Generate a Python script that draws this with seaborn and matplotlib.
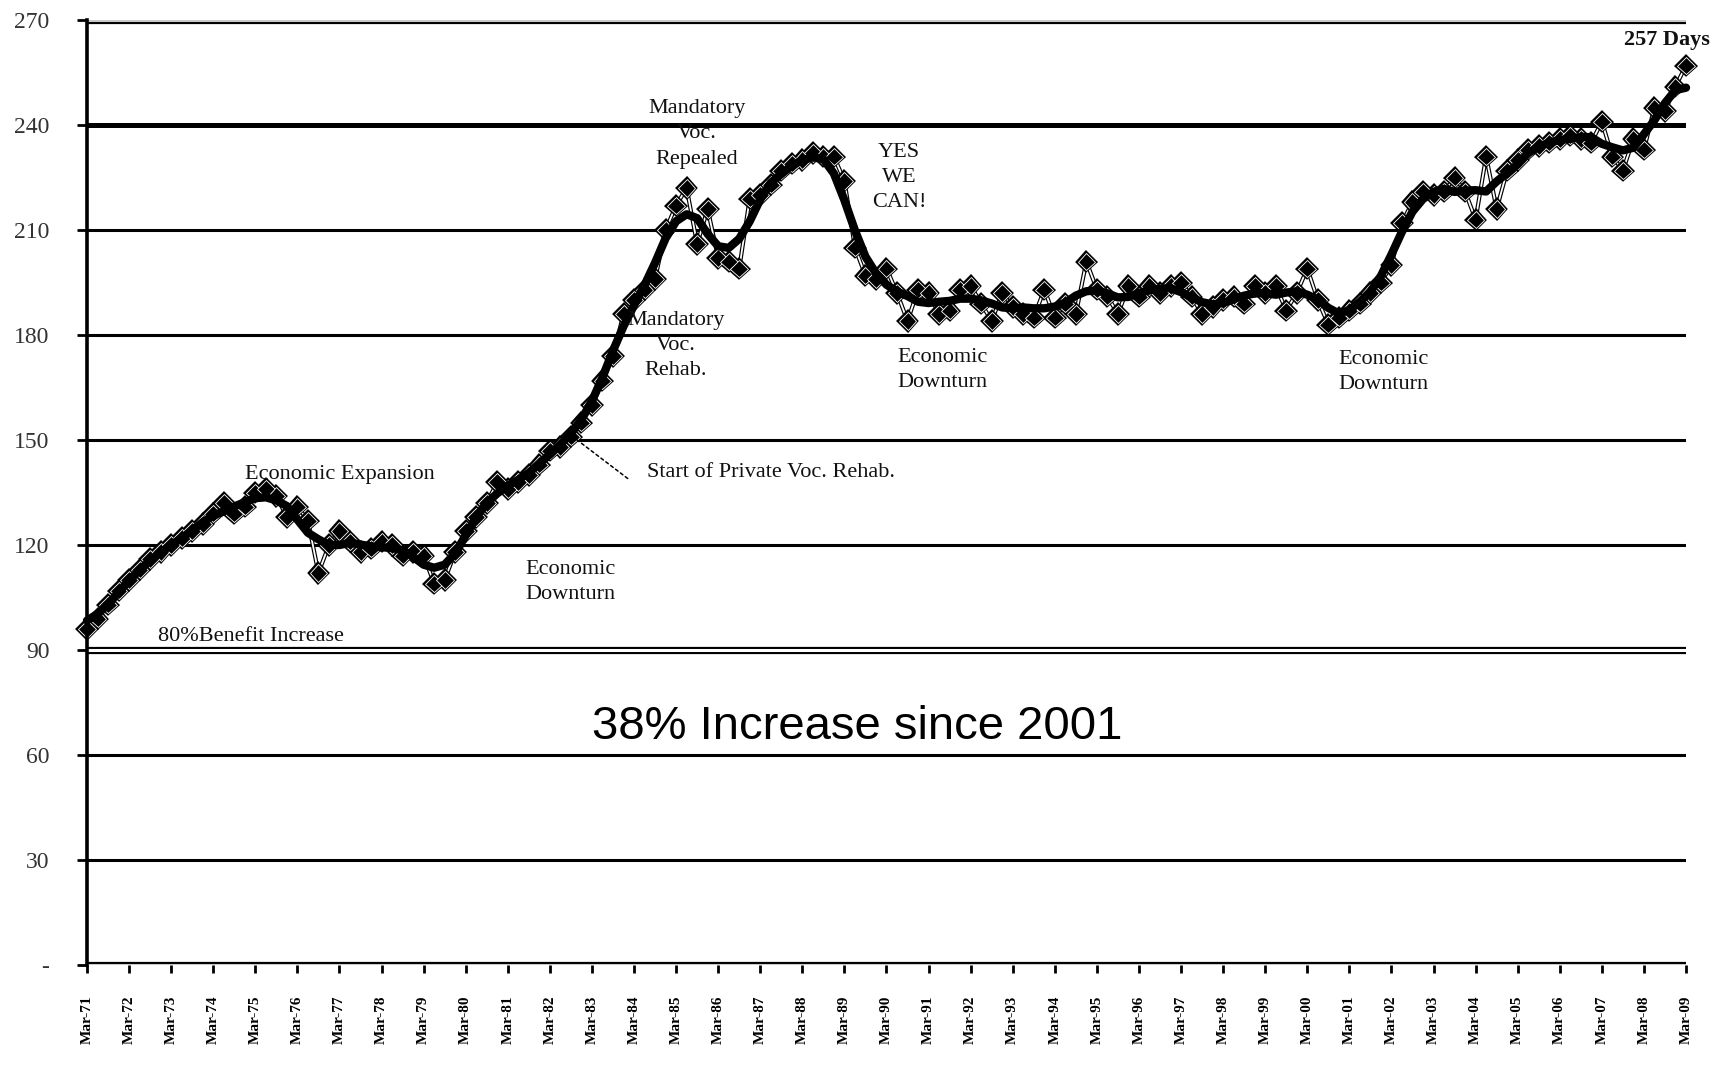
import numpy as np
import pandas as pd
import matplotlib
matplotlib.use("Agg")
import matplotlib.pyplot as plt
import matplotlib.patheffects as pe
import seaborn as sns

# Average days, quarterly readings (Mar, Jun, Sep, Dec) per year
days_1971_1980 = [96, 99, 103, 107, 110, 113, 116, 118, 120, 122, 124, 126,
                  129, 132, 129, 131, 135, 136, 134, 128, 131, 127, 112, 120,
                  124, 121, 118, 119, 121, 120, 117, 118, 117, 109, 110, 118]
days_1980_1990 = [124, 128, 132, 138, 136, 138, 140, 143, 147, 148, 151, 155,
                  160, 167, 174, 186, 190, 193, 196, 210, 217, 222, 206, 216,
                  202, 201, 199, 219, 220, 223, 227, 229, 230, 232, 231, 231,
                  224, 205, 197, 196]
days_1990_2000 = [199, 192, 184, 193, 192, 186, 187, 193, 194, 189, 184, 192,
                  188, 186, 185, 193, 185, 189, 186, 201, 193, 191, 186, 194,
                  191, 194, 192, 194, 195, 191, 186, 188, 190, 191, 189, 194,
                  192, 194, 187, 192]
days_2000_2009 = [199, 190, 183, 185, 187, 189, 192, 195, 200, 212, 218, 221,
                  220, 221, 225, 221, 213, 231, 216, 227, 230, 233, 234, 235,
                  236, 237, 236, 235, 241, 231, 227, 236, 233, 245, 244, 251,
                  257]

tick_years = list(range(1971, 2010))
tick_labels = [f"Mar-{y % 100:02d}" for y in tick_years]
y_ticks = [0, 30, 60, 90, 120, 150, 180, 210, 240, 270]
y_tick_labels = ["-", "30", "60", "90", "120", "150", "180", "210", "240", "270"]

days = days_1971_1980 + days_1980_1990 + days_1990_2000 + days_2000_2009
df = pd.DataFrame({"quarter": 1971 + 0.25 * np.arange(len(days)), "days": days})
# centred 2x4 moving average of the quarterly readings
ma4 = df["days"].rolling(4, center=True, min_periods=1).mean()
df["trend"] = ma4.rolling(2, min_periods=1).mean().shift(-1).fillna(ma4)

sns.set_theme(style="white")
plt.rcParams["font.family"] = ["Liberation Serif", "DejaVu Serif"]

fig = plt.figure(figsize=(17.2, 10.67), dpi=100)
ax = fig.add_axes([87 / 1720, 1 - 965 / 1067, (1686 - 87) / 1720, (965 - 20) / 1067])

# horizontal rules
for v in [30, 60, 120, 150, 180, 210]:
    ax.axhline(v, color="black", lw=2.2, zorder=1)
ax.axhline(240, color="black", lw=3.6, zorder=1)
for v in [0, 90, 270]:
    ax.axhline(v, color="#c8c8c8" if v != 90 else "white", lw=2.2, zorder=1.5,
               path_effects=[pe.Stroke(linewidth=5.2, foreground="black"), pe.Normal()])

# quarterly readings
sns.lineplot(data=df, x="quarter", y="days", ax=ax, color="white", lw=1.3,
             marker="D", markersize=9, markerfacecolor="black",
             markeredgecolor="white", markeredgewidth=0.6, zorder=3, clip_on=False,
             path_effects=[pe.Stroke(linewidth=3.0, foreground="black"), pe.Normal()])
# moving-average trend
sns.lineplot(data=df, x="quarter", y="trend", ax=ax, color="black", lw=6,
             zorder=4, clip_on=False)

ax.set_xlim(1971, 2009)
ax.set_ylim(0, 270)
ax.set_xlabel("")
ax.set_ylabel("")

ax.set_xticks(tick_years)
ax.set_xticklabels(tick_labels, rotation=90, fontsize=11, fontweight="bold",
                   color="black")
ax.set_yticks(y_ticks)
ax.set_yticklabels(y_tick_labels, fontsize=17, color="#333333")
ax.tick_params(axis="x", direction="out", length=6, width=2, pad=16, colors="black",
               labelcolor="black", bottom=True)
ax.tick_params(axis="y", direction="out", length=7, width=2, pad=20, colors="black",
               labelcolor="#333333", left=True)

for side in ["top", "right", "bottom"]:
    ax.spines[side].set_visible(False)
ax.spines["left"].set_color("black")
ax.spines["left"].set_linewidth(2.6)
ax.spines["left"].set_zorder(5)

note = dict(color="#111111", fontsize=16, linespacing=1.45, zorder=6)
ax.text(1977.0, 140, "Economic Expansion", ha="center", va="center", **note)
ax.text(1974.9, 93.8, "80%Benefit Increase", ha="center", va="center", **note)
ax.text(1982.5, 109.5, "Economic\nDownturn", ha="center", va="center", **note)
ax.annotate("", xy=(1982.55, 150.9), xytext=(1983.85, 139.0),
            arrowprops=dict(arrowstyle="-", linestyle=(0, (2, 2)), lw=1.1,
                            color="black", shrinkA=0, shrinkB=0), zorder=6)
ax.text(1984.3, 140.6, "Start of Private Voc. Rehab.", ha="left", va="center", **note)
ax.text(1985.0, 177, "Mandatory\nVoc.\nRehab.", ha="center", va="center", **note)
ax.text(1985.5, 237.5, "Mandatory\nVoc.\nRepealed", ha="center", va="center", **note)
ax.text(1990.3, 225, "YES\nWE\nCAN!", ha="center", va="center", **note)
ax.text(1990.25, 170, "Economic\nDownturn", ha="left", va="center", **note)
ax.text(2000.75, 169.5, "Economic\nDownturn", ha="left", va="center", **note)
ax.text(2008.55, 264.3, "257 Days", ha="center", va="center", color="#111111",
        fontsize=16, fontweight="bold", zorder=6)
ax.text(1989.3, 68.0, "38% Increase since 2001", ha="center", va="center",
        fontsize=34, color="black", family=["Liberation Sans", "DejaVu Sans"], zorder=6)

fig.savefig("out.png", dpi=100, facecolor="white")
